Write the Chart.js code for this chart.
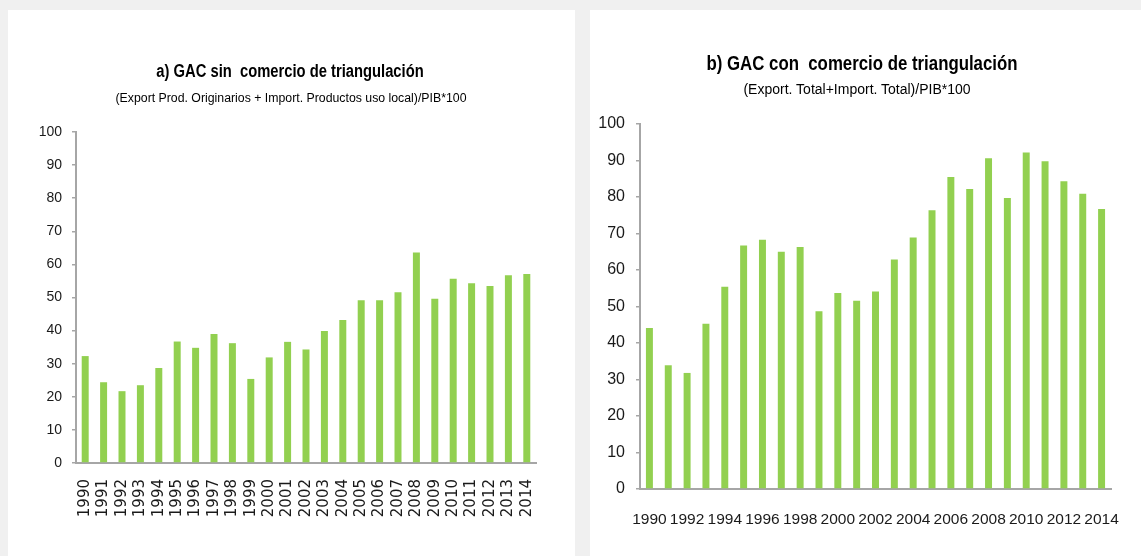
<!DOCTYPE html>
<html>
<head>
<meta charset="utf-8">
<script src="https://cdn.jsdelivr.net/npm/chart.js@4"></script>
<style>
  html, body { margin: 0; padding: 0; background: #f0f0f0; width: 1141px; height: 556px; overflow: hidden; }
  .panel { position: absolute; background: #ffffff; }
  .t { position: absolute; white-space: pre; transform: translateX(-50%); color: #000; font-family: 'Liberation Sans', Arial, sans-serif; }
  .tb { transform: translateX(-50%) scaleX(0.82); font-weight: bold; }
  canvas { position: absolute; left: 0; top: 0; }
</style>
</head>
<body>
<div class="panel" id="pA" style="left:8px; top:10px; width:567px; height:546px;">
  <canvas id="cA" width="567" height="546" style="width:567px;height:546px;"></canvas>
  <div class="t tb" id="titleA" style="left:282px; top:50px; font-size:18px; line-height:22px;"></div>
  <div class="t" id="subA" style="left:283px; top:80px; font-size:12.3px; line-height:16px;"></div>
</div>
<div class="panel" id="pB" style="left:590px; top:10px; width:551px; height:546px;">
  <canvas id="cB" width="551" height="546" style="width:551px;height:546px;"></canvas>
  <div class="t tb" id="titleB" style="left:272px; top:41px; font-size:20.5px; line-height:24px;"></div>
  <div class="t" id="subB" style="left:267px; top:71px; font-size:14px; line-height:17px;"></div>
</div>
<script>
// ---- Data ----
const years = ['1990','1991','1992','1993','1994','1995','1996','1997','1998','1999','2000','2001','2002','2003','2004','2005','2006','2007','2008','2009','2010','2011','2012','2013','2014'];
const gacSinTriangulacion = [32.3, 24.4, 21.7, 23.5, 28.7, 36.7, 34.8, 39.0, 36.2, 25.4, 31.9, 36.6, 34.3, 39.9, 43.2, 49.2, 49.2, 51.6, 63.6, 49.6, 55.7, 54.3, 53.5, 56.7, 57.1];
const gacConTriangulacion = [44.1, 33.9, 31.8, 45.3, 55.4, 66.7, 68.3, 65.0, 66.3, 48.7, 53.7, 51.6, 54.1, 62.9, 68.9, 76.4, 85.5, 82.2, 90.6, 79.7, 92.2, 89.8, 84.3, 80.9, 76.7];
const shownYearsB = ['1990','1992','1994','1996','1998','2000','2002','2004','2006','2008','2010','2012','2014'];
const yMin = 0, yMax = 100, yStep = 10;
const titleA = 'a) GAC sin  comercio de triangulación';
const subtitleA = '(Export Prod. Originarios + Import. Productos uso local)/PIB*100';
const titleB = 'b) GAC con  comercio de triangulación';
const subtitleB = '(Export. Total+Import. Total)/PIB*100';

document.getElementById('titleA').textContent = titleA;
document.getElementById('subA').textContent = subtitleA;
document.getElementById('titleB').textContent = titleB;
document.getElementById('subB').textContent = subtitleB;

const green = '#92D050';
const axisGray = '#a6a6a6';

function makeChart(canvasId, values, opts) {
  return new Chart(document.getElementById(canvasId), {
    type: 'bar',
    data: {
      labels: years,
      datasets: [{
        data: values,
        backgroundColor: green,
        borderWidth: 0,
        barPercentage: opts.barPct,
        categoryPercentage: 1.0
      }]
    },
    options: {
      responsive: false,
      animation: false,
      devicePixelRatio: 1,
      layout: { padding: { top: opts.top, left: 0, right: opts.right, bottom: 0 } },
      plugins: { legend: { display: false }, tooltip: { enabled: false }, title: { display: false } },
      scales: {
        x: {
          grid: { display: false, drawTicks: false },
          border: { display: true, color: axisGray, width: 2 },
          ticks: opts.xTicks,
          afterFit: (s) => { s.height = opts.xHeight; }
        },
        y: {
          min: yMin, max: yMax,
          grid: { display: true, drawOnChartArea: false, drawTicks: true, tickLength: 4, color: axisGray, lineWidth: 1.5 },
          border: { display: true, color: axisGray, width: 2 },
          ticks: { stepSize: yStep, padding: opts.yPad, color: '#1a1a1a', font: opts.yFont },
          afterFit: (s) => { s.width = opts.yWidth; }
        }
      }
    }
  });
}

makeChart('cA', gacSinTriangulacion, {
  barPct: 0.38, top: 122, right: 39, xHeight: 93, yWidth: 68, yPad: 10,
  yFont: { family: 'Liberation Sans', size: 14 },
  xTicks: {
    autoSkip: false, minRotation: 90, maxRotation: 90, padding: 16,
    color: '#1a1a1a', font: { family: 'DejaVu Sans', size: 15 }
  }
});

makeChart('cB', gacConTriangulacion, {
  barPct: 0.37, top: 114, right: 30, xHeight: 67, yWidth: 50, yPad: 11,
  yFont: { family: 'Liberation Sans', size: 16 },
  xTicks: {
    autoSkip: false, maxRotation: 0, minRotation: 0, padding: 21,
    color: '#1a1a1a', font: { family: 'Liberation Sans', size: 15.5 },
    callback: function(value, index) {
      const lab = this.getLabelForValue(value);
      return shownYearsB.includes(lab) ? lab : '';
    }
  }
});
</script>
</body>
</html>
